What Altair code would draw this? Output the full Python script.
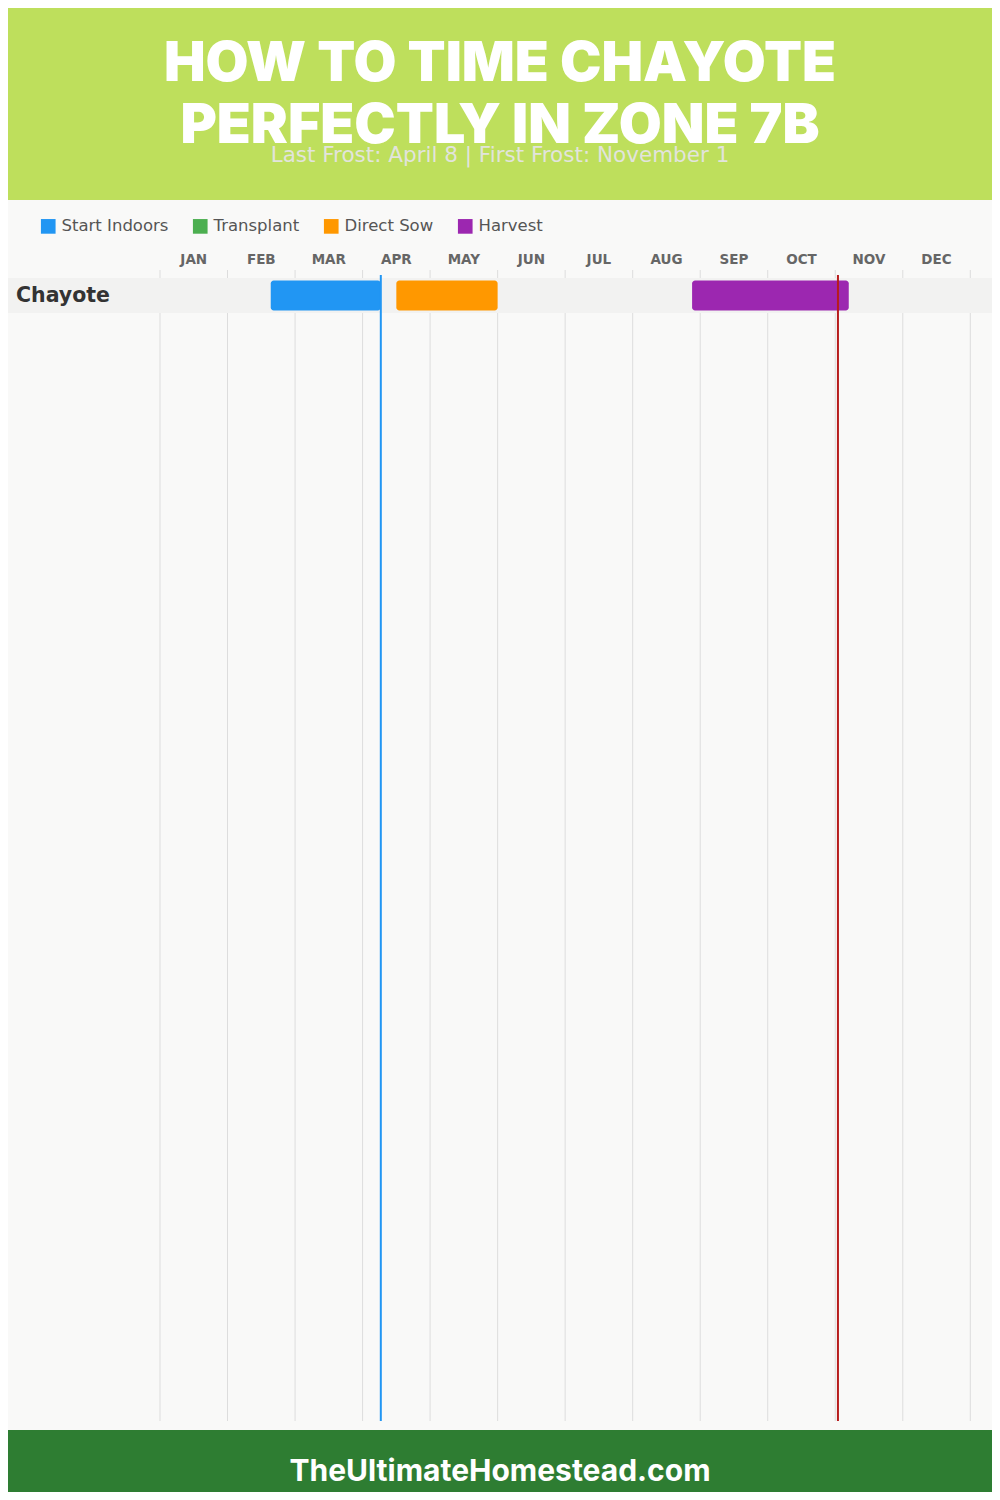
import altair as alt
import pandas as pd

# ---------------- data ----------------
title_lines = ["HOW TO TIME CHAYOTE", "PERFECTLY IN ZONE 7B"]
subtitle = "Last Frost: April 8 | First Frost: November 1"
footer_text = "TheUltimateHomestead.com"

months = ["JAN", "FEB", "MAR", "APR", "MAY", "JUN",
          "JUL", "AUG", "SEP", "OCT", "NOV", "DEC"]

crops = ["Chayote"]

stage_names = ["Start Indoors", "Transplant", "Direct Sow", "Harvest"]
stage_colors = ["#2196f3", "#4caf50", "#ff9800", "#9c27b0"]

# timing windows, in months from Jan 1 (0 = Jan 1, 12 = Dec 31)
bar_crop = ["Chayote", "Chayote", "Chayote"]
bar_stage = ["Start Indoors", "Direct Sow", "Harvest"]
bar_start = [1.64, 3.50, 7.88]
bar_end = [3.27, 5.00, 10.20]

last_frost = [3.27]   # April 8
first_frost = [10.04]  # November 1

# ---------------- layout ----------------
W, H = 984, 1484
xscale = alt.Scale(domain=[0, 12], range=[152, 962.3], nice=False, zero=False)
yscale = alt.Scale(domain=crops, range=[270, 305], paddingInner=0, paddingOuter=0)

bars_df = pd.DataFrame({"crop": bar_crop, "stage": bar_stage,
                        "start": bar_start, "end": bar_end})
month_df = pd.DataFrame({"month": months, "mid": [i + 0.5 for i in range(len(months))]})
grid_df = pd.DataFrame({"b": list(range(len(months) + 1))})
crop_df = pd.DataFrame({"crop": crops})

header = alt.Chart(pd.DataFrame({"a": [0]})).mark_rect(color="#bedf5c").encode(
    x=alt.value(-8), x2=alt.value(W), y=alt.value(-8), y2=alt.value(192))

title1 = alt.Chart(pd.DataFrame({"t": [title_lines[0]]})).mark_text(
    font="Inter", fontWeight=900, fontSize=55.5, color="white", align="center",
    baseline="alphabetic").encode(text="t:N", x=alt.value(492), y=alt.value(73))
title2 = alt.Chart(pd.DataFrame({"t": [title_lines[1]]})).mark_text(
    font="Inter", fontWeight=900, fontSize=55.5, color="white", align="center",
    baseline="alphabetic").encode(text="t:N", x=alt.value(492), y=alt.value(135))
sub = alt.Chart(pd.DataFrame({"t": [subtitle]})).mark_text(
    font="DejaVu Sans", fontWeight="normal", fontSize=21.5, color="#e2e4dc", align="center",
    baseline="alphabetic").encode(text="t:N", x=alt.value(492), y=alt.value(154))

grid = alt.Chart(grid_df).mark_rule(color="#dddddd", strokeWidth=1).encode(
    x=alt.X("b:Q", scale=xscale, axis=None), y=alt.value(262), y2=alt.value(1413))

band = alt.Chart(crop_df).mark_rect(color="#f2f2f1").encode(
    x=alt.value(-8), x2=alt.value(W),
    y=alt.Y("crop:N", scale=yscale, axis=None))

month_labels = alt.Chart(month_df).mark_text(
    font="DejaVu Sans", fontWeight="bold", fontSize=13.5, color="#666666", align="center",
    baseline="alphabetic").encode(
    x=alt.X("mid:Q", scale=xscale, axis=None), y=alt.value(256), text="month:N")

bars = alt.Chart(bars_df).mark_bar(cornerRadius=3, height={"band": 30 / 35}).encode(
    x=alt.X("start:Q", scale=xscale, axis=None),
    x2="end:Q",
    y=alt.Y("crop:N", scale=yscale, axis=None),
    color=alt.Color("stage:N",
                    scale=alt.Scale(domain=stage_names, range=stage_colors),
                    legend=alt.Legend(orient="none", legendX=32, legendY=210,
                                      direction="horizontal", title=None,
                                      symbolType="square", symbolSize=215,
                                      symbolStrokeWidth=0, symbolOpacity=1,
                                      labelFont="DejaVu Sans", labelFontSize=16.5,
                                      labelColor="#555555", labelOffset=5,
                                      columnPadding=23)))

crop_labels = alt.Chart(crop_df).mark_text(
    font="DejaVu Sans", fontWeight="bold", fontSize=20.5, color="#333333", align="left",
    baseline="middle").encode(
    x=alt.value(8), y=alt.Y("crop:N", scale=yscale, axis=None), text="crop:N")

lf = alt.Chart(pd.DataFrame({"v": last_frost})).mark_rule(color="#2196f3", strokeWidth=2).encode(
    x=alt.X("v:Q", scale=xscale, axis=None), y=alt.value(267), y2=alt.value(1413))
ff = alt.Chart(pd.DataFrame({"v": first_frost})).mark_rule(color="#b71c1c", strokeWidth=2).encode(
    x=alt.X("v:Q", scale=xscale, axis=None), y=alt.value(267), y2=alt.value(1413))

footer = alt.Chart(pd.DataFrame({"a": [0]})).mark_rect(color="#2e7d32").encode(
    x=alt.value(-8), x2=alt.value(W), y=alt.value(1422), y2=alt.value(H))
foot_txt = alt.Chart(pd.DataFrame({"t": [footer_text]})).mark_text(
    font="Inter", fontWeight=700, fontSize=30, color="white", align="center",
    baseline="alphabetic").encode(text="t:N", x=alt.value(492), y=alt.value(1473))

chart = alt.layer(
    header, title1, title2, sub, grid, band, month_labels, bars, crop_labels,
    lf, ff, footer, foot_txt
).properties(
    width=W, height=H, padding=0,
    autosize=alt.AutoSizeParams(type="none"),
    background="#f9f9f8",
).configure_view(stroke=None)

chart.save("out.html", embed_options={"renderer": "svg", "actions": False})
